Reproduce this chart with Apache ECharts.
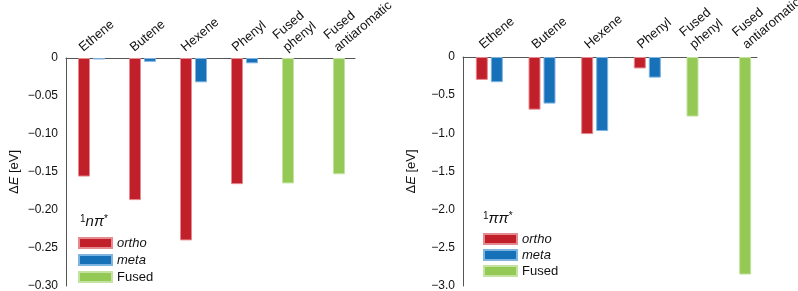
<!DOCTYPE html>
<html>
<head>
<meta charset="utf-8">
<script src="https://cdn.jsdelivr.net/npm/echarts@6/dist/echarts.min.js"></script>
<style>
  html, body { margin: 0; padding: 0; background: #fff; }
  #chart { width: 798px; height: 291px; }
</style>
</head>
<body>
<div id="chart"></div>
<script>
var categories = ['Ethene', 'Butene', 'Hexene', 'Phenyl', 'Fused\nphenyl', 'Fused\nantiaromatic']

// 1nπ* panel
var npOrtho = [-0.156, -0.187, -0.240, -0.166, null, null]
var npMeta = [-0.002, -0.005, -0.032, -0.007, null, null]
var npFused = [null, null, null, null, -0.165, -0.153]

// 1ππ* panel
var ppOrtho = [-0.30, -0.69, -1.01, -0.15, null, null]
var ppMeta = [-0.33, -0.61, -0.97, -0.27, null, null]
var ppFused = [null, null, null, null, -0.78, -2.85]

var colors = { ortho: '#c1202b', meta: '#1771b9', Fused: '#93c954' }
var borders = { ortho: '#e58a90', meta: '#7fb3e0', Fused: '#c4e3a0' }

var font = 'Liberation Sans, Arial, sans-serif'
var axisColor = '#555'

function minus (v, digits) {
  if (v === 0) return '0'
  var s = Math.abs(v).toFixed(digits)
  return (v < 0 ? '\u2212' : '') + s
}

function barSeries (name, data, idx, stack) {
  return {
    name: name,
    type: 'bar',
    xAxisIndex: idx,
    yAxisIndex: idx,
    stack: stack,
    barWidth: 12,
    barGap: '25%',
    data: data,
    itemStyle: {
      color: colors[name],
      borderColor: borders[name],
      borderWidth: 1
    }
  }
}

function catAxis (idx, margin, shift) {
  return {
    type: 'category',
    gridIndex: idx,
    position: 'top',
    data: categories,
    axisLine: { show: false },
    axisTick: { show: false },
    axisLabel: {
      interval: 0,
      rotate: 40,
      margin: margin,
      fontSize: 13,
      fontFamily: font,
      color: '#111',
      lineHeight: 16,
      verticalAlign: 'bottom',
      padding: [0, 0, 0, shift]
    }
  }
}

function valAxis (idx, min, interval, digits) {
  return {
    type: 'value',
    gridIndex: idx,
    min: min,
    max: 0,
    interval: interval,
    name: '{n|\u0394}{i|E}{n| [eV]}',
    nameLocation: 'middle',
    nameRotate: 90,
    nameGap: 45,
    nameTextStyle: {
      rich: {
        n: { fontSize: 13, fontFamily: font, color: '#111' },
        i: { fontSize: 13, fontFamily: font, fontStyle: 'italic', color: '#111' }
      }
    },
    splitLine: { show: false },
    axisTick: { show: false },
    axisLine: { show: true, onZero: false, lineStyle: { color: axisColor, width: 1 } },
    axisLabel: {
      margin: 8,
      fontSize: 12,
      fontFamily: font,
      color: '#111',
      formatter: function (v) { return minus(v, digits) }
    }
  }
}

// extra grids only carry the shorter top axis lines
function lineX (idx) {
  return {
    type: 'value',
    gridIndex: idx,
    position: 'top',
    axisLine: { show: true, onZero: false, lineStyle: { color: axisColor, width: 1 } },
    axisTick: { show: false },
    axisLabel: { show: false },
    splitLine: { show: false }
  }
}
function lineY (idx) {
  return { type: 'value', gridIndex: idx, show: false }
}

function legendFor (left, top, gap) {
  return {
    left: left,
    top: top,
    padding: 0,
    orient: 'vertical',
    icon: 'rect',
    itemWidth: 33,
    itemHeight: 10,
    itemGap: gap,
    itemTextGap: 7,
    selectedMode: false,
    data: ['ortho', 'meta', 'Fused'],
    textStyle: {
      fontSize: 13,
      lineHeight: 14,
      fontFamily: font,
      color: '#111',
      rich: { i: { fontSize: 13, lineHeight: 14, fontFamily: font, fontStyle: 'italic', color: '#111' } }
    },
    formatter: function (name) {
      return name === 'Fused' ? name : '{i|' + name + '}'
    }
  }
}

function titleFor (left, top, text) {
  return {
    left: left,
    top: top,
    padding: 0,
    text: text,
    textStyle: {
      fontWeight: 'normal',
      rich: {
        s: { fontSize: 10, fontFamily: font, color: '#111', verticalAlign: 'top', lineHeight: 16 },
        i: { fontSize: 15, fontFamily: font, fontStyle: 'italic', color: '#111', lineHeight: 16 }
      }
    }
  }
}

function gridAt (left, top, width, height) {
  return { left: left, top: top, width: width, height: height, outerBoundsMode: 'none', containLabel: false }
}

var chart = echarts.init(document.getElementById('chart'))
chart.setOption({
  animation: false,
  title: [
    titleFor(80, 214, '{s|1}{i|n\u03c0}{s|*}'),
    titleFor(483, 211, '{s|1}{i|\u03c0\u03c0}{s|*}')
  ],
  legend: [legendFor(78, 236, 3), legendFor(483, 232, 2)],
  grid: [
    gridAt(66, 58, 306, 228),
    gridAt(463, 57, 316, 229),
    gridAt(66, 58, 289, 228),
    gridAt(463, 57, 294, 229)
  ],
  xAxis: [catAxis(0, 7, -7), catAxis(1, 7, -4), lineX(2), lineX(3)],
  yAxis: [
    valAxis(0, -0.3, 0.05, 2),
    valAxis(1, -3, 0.5, 1),
    lineY(2),
    lineY(3)
  ],
  series: [
    barSeries('ortho', npOrtho, 0, 'np'),
    barSeries('meta', npMeta, 0, 'npm'),
    barSeries('Fused', npFused, 0, 'np'),
    barSeries('ortho', ppOrtho, 1, 'pp'),
    barSeries('meta', ppMeta, 1, 'ppm'),
    barSeries('Fused', ppFused, 1, 'pp')
  ]
})
</script>
</body>
</html>
